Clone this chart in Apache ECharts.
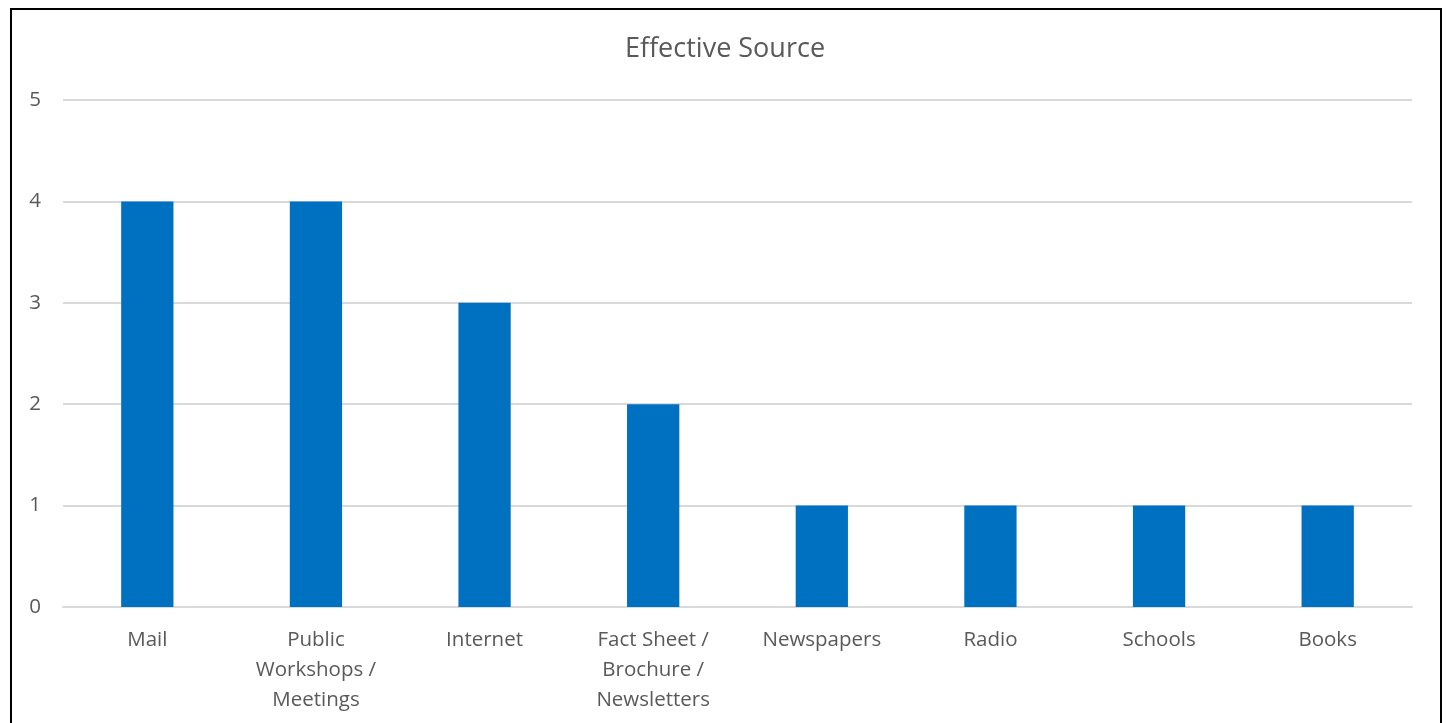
<!DOCTYPE html>
<html>
<head>
<meta charset="utf-8">
<script src="https://cdn.jsdelivr.net/npm/echarts@6/dist/echarts.min.js"></script>
<style>
html,body{margin:0;padding:0;background:#fff;}
#chart{width:1450px;height:723px;}
</style>
</head>
<body>
<div id="chart"></div>
<script>
const categories = ["Mail", "Public\nWorkshops /\nMeetings", "Internet", "Fact Sheet /\nBrochure /\nNewsletters", "Newspapers", "Radio", "Schools", "Books"];
const values = [4, 4, 3, 2, 1, 1, 1, 1];
const yTicks = { min: 0, max: 5, interval: 1 };
const titleText = "Effective Source";

const chart = echarts.init(document.getElementById('chart'), null, { renderer: 'canvas' });
const font = "'Open Sans', 'Noto Sans', sans-serif";
chart.setOption({
  animation: false,
  backgroundColor: '#ffffff',
  title: {
    text: titleText,
    left: 'center',
    top: 31,
    textStyle: { fontFamily: font, fontSize: 27, fontWeight: 'normal', color: '#595959' }
  },
  graphic: [{
    type: 'rect',
    shape: { x: 11, y: 9, width: 1430, height: 800 },
    style: { fill: 'none', stroke: '#000000', lineWidth: 2 },
    silent: true
  }],
  grid: { left: 63, right: 38, top: 100, bottom: 116, containLabel: false },
  xAxis: {
    type: 'category',
    data: categories,
    axisLine: { show: true, lineStyle: { color: '#d9d9d9', width: 2 } },
    axisTick: { show: false },
    axisLabel: {
      interval: 0,
      fontFamily: font,
      fontSize: 20.5,
      color: '#595959',
      lineHeight: 30,
      margin: 18
    }
  },
  yAxis: {
    type: 'value',
    min: yTicks.min,
    max: yTicks.max,
    interval: yTicks.interval,
    axisLine: { show: false },
    axisTick: { show: false },
    splitLine: { lineStyle: { color: '#d9d9d9', width: 2 } },
    axisLabel: { fontFamily: font, fontSize: 20.5, color: '#595959', margin: 22 }
  },
  series: [{
    type: 'bar',
    data: values,
    barWidth: '31%',
    itemStyle: { color: '#0070C0' }
  }]
});
</script>
</body>
</html>
